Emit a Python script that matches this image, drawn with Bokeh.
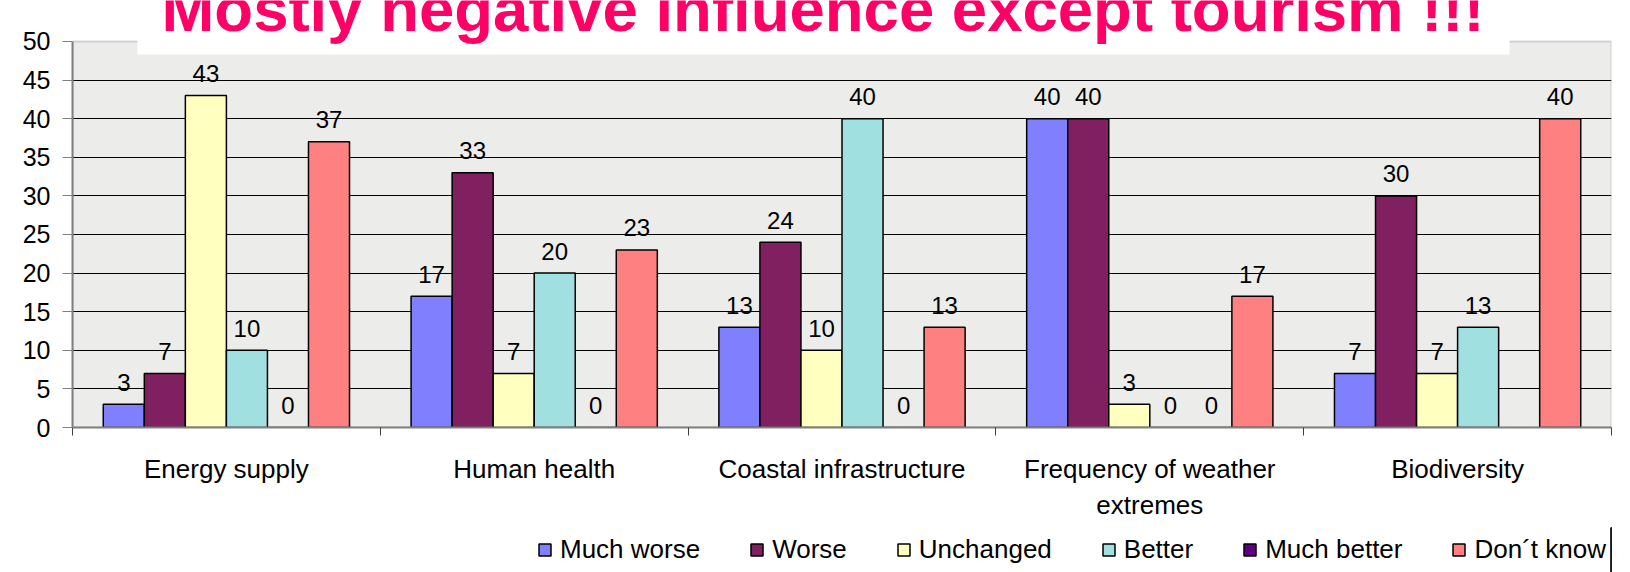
import numpy as np
from bokeh.plotting import figure
from bokeh.layouts import column
from bokeh.models import (ColumnDataSource, Range1d, FixedTicker,
                          Legend, LegendItem, Label, BoxAnnotation)
from bokeh.transform import dodge
from bokeh.core.properties import value
from bokeh.embed import file_html
from bokeh.resources import INLINE

# ---------------- data ----------------
categories = ["Energy supply", "Human health", "Coastal infrastructure",
              "Frequency of weather extremes", "Biodiversity"]
category_labels = ["Energy supply", "Human health", "Coastal infrastructure",
                   "Frequency of weather\nextremes", "Biodiversity"]
series_names = ["Much worse", "Worse", "Unchanged", "Better", "Much better", "Don\u00b4t know"]
much_worse = [3, 17, 13, 40, 7]
worse = [7, 33, 24, 40, 30]
unchanged = [43, 7, 10, 3, 7]
better = [10, 20, 40, 0, 13]
much_better = [0, 0, 0, 0, None]
dont_know = [37, 23, 13, 17, 40]
y_ticks = [0, 5, 10, 15, 20, 25, 30, 35, 40, 45, 50]
title_text = "Mostly negative influence except tourism !!!"

series_values = [much_worse, worse, unchanged, better, much_better, dont_know]
colors = ["#8080FF", "#802060", "#FFFFC0", "#A0E0E0", "#600080", "#FF8080"]

FONT = "Liberation Sans"
W = 1630
H_MAIN, H_LEG = 527, 45
FRAME_H = 427
ncat = len(categories)
YMAX = y_ticks[-1]
Y_TOP = 55.31   # frame runs up to the top edge so the title can overlap it

p = figure(width=W, height=H_MAIN,
           x_range=Range1d(0, ncat),
           y_range=Range1d(0, Y_TOP),
           output_backend="svg", toolbar_location=None,
           min_border_left=72, min_border_right=19,
           min_border_top=0, min_border_bottom=H_MAIN - FRAME_H)

p.background_fill_color = "white"
p.border_fill_color = "white"
p.outline_line_color = None

# plot-area background (0..50) with grey border
p.add_layout(BoxAnnotation(bottom=0, top=YMAX, fill_color="#ECECEA", fill_alpha=1.0,
                           line_color="#808080", line_width=2, level="image"))

# y axis
ya = p.yaxis[0]
ya.ticker = FixedTicker(ticks=y_ticks)
ya.bounds = (0, YMAX)
ya.axis_line_color = "#808080"
ya.axis_line_width = 2
ya.major_tick_line_color = "#808080"
ya.major_tick_out = 10
ya.major_tick_in = 0
ya.minor_tick_line_color = None
ya.major_label_text_font = FONT
ya.major_label_text_font_size = "25px"
ya.major_label_text_color = "black"
ya.major_label_standoff = 12

p.xgrid.visible = False
p.ygrid.ticker = FixedTicker(ticks=y_ticks[:-1])
p.ygrid.grid_line_color = "black"
p.ygrid.grid_line_width = 1
p.ygrid.level = "underlay"

# x axis: category names at the centres, ticks at the category boundaries
cat_pos = np.arange(ncat) + 0.5
centers = [float(c) for c in cat_pos]
bounds = [float(b) for b in range(ncat + 1)]
xa = p.xaxis[0]
xa.ticker = FixedTicker(ticks=centers, minor_ticks=bounds)
xa.major_label_overrides = {c: lab for c, lab in zip(centers, category_labels)}
xa.axis_line_color = "#808080"
xa.axis_line_width = 2
xa.major_tick_line_color = None
xa.major_tick_out = 0
xa.major_tick_in = 0
xa.minor_tick_line_color = "#404040"
xa.minor_tick_out = 8
xa.minor_tick_in = 0
xa.major_label_text_font = FONT
xa.major_label_text_font_size = "26px"
xa.major_label_text_color = "black"
xa.major_label_standoff = 18

# bars
n = len(series_names)
group = n + 1.5  # gap width 150%
bw = 1.0 / group
for j, (name, vals, col) in enumerate(zip(series_names, series_values, colors)):
    tops = [np.nan if v is None else v for v in vals]
    labels = ["" if v is None else str(v) for v in vals]
    src = ColumnDataSource(dict(xc=cat_pos, cat=categories, top=tops, lab=labels))
    off = (j - (n - 1) / 2.0) * bw
    p.vbar(x=dodge("xc", off), top="top", bottom=0, width=bw,
           source=src, fill_color=col, line_color="black", line_width=1.5)
    p.text(x=dodge("xc", off), y="top", text="lab", source=src,
           text_align="center", text_baseline="alphabetic", y_offset=-22,
           text_font=value(FONT), text_font_size="24px", text_color="black")

# white title box covering the top of the plot area
p.add_layout(BoxAnnotation(left=0.211, right=4.669, bottom=48.32,
                           top=None, fill_color="white", fill_alpha=1.0,
                           line_color=None, level="overlay"))
p.add_layout(Label(x=0.289, y=54.27, text=title_text,
                   text_font=FONT, text_font_style="bold", text_font_size="63.5px",
                   text_color="#FF0066", text_baseline="middle", level="overlay"))

# ---------------- legend strip ----------------
lf = figure(width=W, height=H_LEG, x_range=Range1d(0, 1), y_range=Range1d(0, 1),
            x_axis_location=None, y_axis_location=None,
            output_backend="svg", toolbar_location=None,
            min_border=0, min_border_left=0, min_border_right=0,
            min_border_top=0, min_border_bottom=0)
lf.grid.visible = False
lf.outline_line_color = None
lf.background_fill_color = "white"
lf.border_fill_color = "white"
items = []
for name, col in zip(series_names, colors):
    # one off-screen bar per series only to carry the legend swatch style
    r = lf.vbar(x=[5.0], top=[1.0], width=0.1, fill_color=col,
                line_color="black", line_width=1.5)
    items.append(LegendItem(label=name, renderers=[r]))
# the column aligns this strip's frame with the chart frame (starts at x=72)
legend = Legend(items=items, location=(465, 7), orientation="horizontal",
                padding=0, margin=0, spacing=49,
                glyph_width=15, glyph_height=15, label_standoff=8,
                label_text_font=FONT, label_text_font_size="26px",
                label_text_color="black",
                border_line_color=None, background_fill_alpha=0)
lf.add_layout(legend, "center")

layout = column(p, lf, spacing=0)
open("out.html", "w").write(file_html(layout, INLINE))
